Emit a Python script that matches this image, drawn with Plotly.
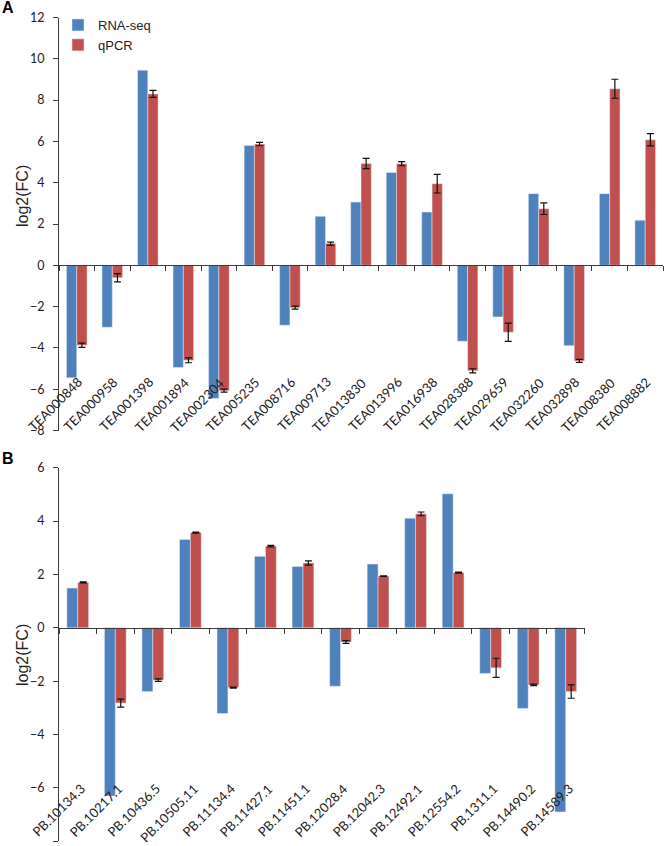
import plotly.graph_objects as go

# ---------------- data ----------------
genes_a = ["TEA000848", "TEA000958", "TEA001398", "TEA001894", "TEA002304", "TEA005235",
           "TEA008716", "TEA009713", "TEA013830", "TEA013996", "TEA016938", "TEA028388",
           "TEA029659", "TEA032260", "TEA032898", "TEA008380", "TEA008882"]
rnaseq_a = [-5.45, -3.0, 9.45, -4.95, -6.45, 5.8, -2.9, 2.37, 3.06, 4.5, 2.58, -3.68,
            -2.5, 3.47, -3.89, 3.47, 2.18]
qpcr_a = [-3.87, -0.6, 8.3, -4.6, -6.07, 5.87, -2.05, 1.05, 4.93, 4.92, 3.95, -5.11,
          -3.24, 2.74, -4.63, 8.55, 6.08]
qpcr_err_a = [0.1, 0.2, 0.17, 0.12, 0.07, 0.08, 0.07, 0.07, 0.25, 0.1, 0.45, 0.1,
              0.44, 0.28, 0.07, 0.46, 0.3]

genes_b = ["PB.10134.3", "PB.10217.1", "PB.10436.5", "PB.10505.11", "PB.11134.4", "PB.11427.1",
           "PB.11451.1", "PB.12028.4", "PB.12042.3", "PB.12492.1", "PB.12554.2", "PB.1311.1",
           "PB.14490.2", "PB.14589.3"]
rnaseq_b = [1.49, -6.3, -2.39, 3.31, -3.21, 2.68, 2.3, -2.19, 2.39, 4.11, 5.02, -1.71, -3.02, -6.9]
qpcr_b = [1.7, -2.82, -1.96, 3.57, -2.24, 3.06, 2.43, -0.53, 1.94, 4.27, 2.07, -1.5, -2.14, -2.39]
qpcr_err_b = [0.02, 0.15, 0.05, 0.02, 0.02, 0.03, 0.08, 0.05, 0.01, 0.07, 0.02, 0.36, 0.03, 0.25]

range_a = [-8, 12]
range_b = [-8, 6]
ticks_step = 2

# ---------------- style ----------------
W, H = 664, 846
BLUE = "#4F81BD"
RED = "#C0504D"
AXIS = "#3a3a3a"
TXT = "#222222"
NUM_FONT = dict(family="Lato, Open Sans, sans-serif", size=12.5, color=TXT)
CAT_FONT = dict(family="Lato, Open Sans, sans-serif", size=13, color=TXT)
ARIAL = "Liberation Sans, Arial, sans-serif"


def fy(py):
    return 1 - py / H


def fx(px):
    return px / W


# pixel geometry of panels
A_top, A_bot = 17.5, 430.5
B_top, B_bot = 467.7, 841.3
X_left = 59
A_right = 663
B_right = 584.5
A_label_py = 373
B_label_py = 779

dom_ya = [fy(A_bot), fy(A_top)]
dom_yb = [fy(B_bot), fy(B_top)]


def zero_pos(dom, rng):
    return dom[0] + (0 - rng[0]) / (rng[1] - rng[0]) * (dom[1] - dom[0])


fig = go.Figure()

# Panel A
fig.add_trace(go.Bar(x=genes_a, y=rnaseq_a, name="RNA-seq", marker_color=BLUE,
                     legendgroup="a", xaxis="x", yaxis="y"))
fig.add_trace(go.Bar(x=genes_a, y=qpcr_a, name="qPCR", marker_color=RED,
                     legendgroup="b", xaxis="x", yaxis="y",
                     error_y=dict(type="data", array=qpcr_err_a, color="#111111",
                                  thickness=1.2, width=3.5)))

# Panel B
fig.add_trace(go.Bar(x=genes_b, y=rnaseq_b, name="RNA-seq", marker_color=BLUE,
                     showlegend=False, xaxis="x2", yaxis="y2"))
fig.add_trace(go.Bar(x=genes_b, y=qpcr_b, name="qPCR", marker_color=RED,
                     showlegend=False, xaxis="x2", yaxis="y2",
                     error_y=dict(type="data", array=qpcr_err_b, color="#111111",
                                  thickness=1.2, width=3.5)))

zero_axis = dict(type="category", anchor="free", showline=True, linecolor=AXIS,
                 linewidth=1, ticks="outside", ticklen=5, tickcolor=AXIS,
                 tickson="boundaries", showticklabels=False, showgrid=False,
                 zeroline=False, automargin=False)
y_axis = dict(showline=True, linecolor=AXIS, linewidth=1, ticks="outside", ticklen=5,
              tickcolor=AXIS, dtick=ticks_step, showgrid=False, zeroline=False,
              tickfont=NUM_FONT, ticklabelstandoff=6, automargin=False)

annotations = [
    dict(text="<b>A</b>", x=fx(7.5), y=fy(7.5), xref="paper", yref="paper",
         xanchor="center", yanchor="middle", showarrow=False,
         font=dict(family=ARIAL, size=16, color="#000")),
    dict(text="<b>B</b>", x=fx(7.5), y=fy(459), xref="paper", yref="paper",
         xanchor="center", yanchor="middle", showarrow=False,
         font=dict(family=ARIAL, size=16, color="#000")),
    dict(text="log2(FC)", x=fx(22), y=fy(196), xref="paper", yref="paper",
         xanchor="center", yanchor="middle", showarrow=False, textangle=-90,
         font=dict(family=ARIAL, size=16, color=TXT)),
    dict(text="log2(FC)", x=fx(22), y=fy(655), xref="paper", yref="paper",
         xanchor="center", yanchor="middle", showarrow=False, textangle=-90,
         font=dict(family=ARIAL, size=16, color=TXT)),
]
# rotated category labels, placed at each category via the x axes
for g in genes_a:
    annotations.append(dict(text=g, x=g, xref="x", y=fy(A_label_py), yref="paper",
                            xanchor="right", yanchor="top", textangle=-45, xshift=10,
                            showarrow=False, font=CAT_FONT, borderpad=0))
for g in genes_b:
    annotations.append(dict(text=g, x=g, xref="x2", y=fy(B_label_py), yref="paper",
                            xanchor="right", yanchor="top", textangle=-45, xshift=12,
                            showarrow=False, font=CAT_FONT, borderpad=0))

fig.update_layout(
    width=W, height=H,
    margin=dict(l=0, r=0, t=0, b=0, autoexpand=False),
    paper_bgcolor="white", plot_bgcolor="white",
    barmode="group", bargap=0.42, bargroupgap=0,
    xaxis=dict(zero_axis, domain=[fx(X_left), fx(A_right)],
               range=[-0.5, len(genes_a) - 0.5], autorange=False,
               position=zero_pos(dom_ya, range_a)),
    yaxis=dict(y_axis, domain=dom_ya, range=range_a, anchor="x"),
    xaxis2=dict(zero_axis, domain=[fx(X_left), fx(B_right)],
                range=[-0.5, len(genes_b) - 0.5], autorange=False,
                position=zero_pos(dom_yb, range_b)),
    yaxis2=dict(y_axis, domain=dom_yb, range=range_b, anchor="x2"),
    legend=dict(x=fx(58), y=fy(10), xanchor="left", yanchor="top",
                bgcolor="rgba(0,0,0,0)", traceorder="grouped", tracegroupgap=0,
                font=dict(family=ARIAL, size=13, color=TXT)),
    showlegend=True,
    annotations=annotations,
)

fig.write_html("out.html", config={"displayModeBar": False},
               post_script="document.body.style.margin='0px';")
